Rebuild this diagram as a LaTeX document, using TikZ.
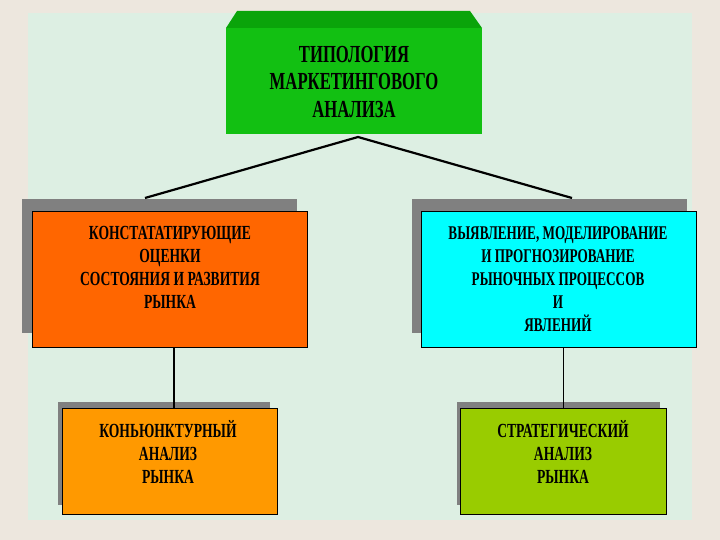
\documentclass[tikz,border=0pt]{standalone}
\usepackage{fontspec}
\setmainfont{Liberation Serif}
\newfontfamily\cond[FakeStretch=0.68]{Liberation Serif}
\usetikzlibrary{calc}
\definecolor{bgout}{HTML}{EDE7DE}
\definecolor{bgin}{HTML}{DDEFE3}
\definecolor{gfront}{HTML}{12C012}
\definecolor{gtop}{HTML}{0AA40A}
\definecolor{orng}{HTML}{FF6600}
\definecolor{cyn}{HTML}{00FFFF}
\definecolor{orng2}{HTML}{FF9900}
\definecolor{lime}{HTML}{99CC00}
\definecolor{shad}{HTML}{808080}
\begin{document}
\begin{tikzpicture}[x=1pt,y=-1pt,
  boxstyle/.style={draw=black, line width=0.8pt, anchor=north west, inner sep=0pt},
  txt/.style={align=center, inner sep=0pt, text=black},
  conn/.style={draw=black, line width=2.2pt}]
\useasboundingbox (0,0) rectangle (720,540);
\fill[bgout] (0,0) rectangle (720,540);
\fill[bgin] (28,13) rectangle (692,520);
% top box
\fill[gtop] (226,28) -- (237,11) -- (470,11) -- (482,28) -- cycle;
\node[fill=gfront, anchor=north west, inner sep=0pt, minimum width=256pt, minimum height=106pt] (top) at (226,28) {};
\node[txt, font=\cond\bfseries\fontsize{24.5}{27.5}\selectfont] (toptxt) at (354,82) {ТИПОЛОГИЯ\\МАРКЕТИНГОВОГО\\АНАЛИЗА};
% shadows
\fill[shad] (22,199) rectangle (297,333);
\fill[shad] (412,199) rectangle (687,333);
\fill[shad] (58,402) rectangle (270,505);
\fill[shad] (457,402) rectangle (660,505);
% connectors from top
\coordinate (apex) at (358,137);
\coordinate (lend) at (145,198);
\coordinate (rend) at (572,198);
\draw[conn] (lend) -- (apex) -- (rend);
% middle boxes
\node[boxstyle, fill=orng, minimum width=275pt, minimum height=136pt] (left) at (32,211) {};
\node[txt, font=\cond\bfseries\fontsize{20}{23}\selectfont] (lefttxt) at (170,267.5) {КОНСТАТАТИРУЮЩИЕ\\ОЦЕНКИ\\СОСТОЯНИЯ И РАЗВИТИЯ\\РЫНКА};
\node[boxstyle, fill=cyn, minimum width=275pt, minimum height=136pt] (right) at (421,211) {};
\node[txt, font=\cond\bfseries\fontsize{19.4}{23}\selectfont] (righttxt) at (558,279) {ВЫЯВЛЕНИЕ, МОДЕЛИРОВАНИЕ\\И ПРОГНОЗИРОВАНИЕ\\РЫНОЧНЫХ ПРОЦЕССОВ\\И\\ЯВЛЕНИЙ};
% bottom boxes
\node[boxstyle, fill=orng2, minimum width=215pt, minimum height=106pt] (bl) at (62,408) {};
\node[txt, font=\cond\bfseries\fontsize{20}{23}\selectfont] (bltxt) at (168,452) {КОНЬЮНКТУРНЫЙ\\АНАЛИЗ\\РЫНКА};
\node[boxstyle, fill=lime, minimum width=206pt, minimum height=106pt] (br) at (460,408) {};
\node[txt, font=\cond\bfseries\fontsize{20}{23}\selectfont] (brtxt) at (563,452) {СТРАТЕГИЧЕСКИЙ\\АНАЛИЗ\\РЫНКА};
% vertical connectors
\draw[conn] ([xshift=4pt]left.south -| bl.north) -- ([xshift=4pt]bl.north);
\draw[conn, line width=1.6pt] (right.south -| br.north) -- (br.north);
\end{tikzpicture}
\end{document}
